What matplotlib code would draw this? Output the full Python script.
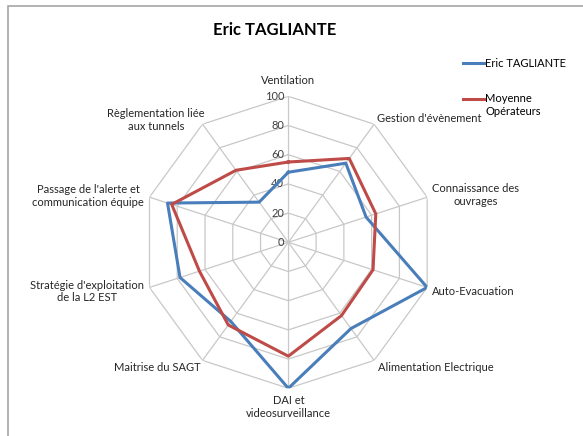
import numpy as np
import matplotlib
matplotlib.use('Agg')
import matplotlib.pyplot as plt
from matplotlib.patches import Rectangle
from matplotlib.legend_handler import HandlerLine2D

plt.rcParams['font.family'] = ['Lato', 'DejaVu Sans']

# Données
categories = ["Ventilation", "Gestion d'évènement", "Connaissance des\nouvrages",
              "Auto-Evacuation", "Alimentation Electrique", "DAI et\nvideosurveillance",
              "Maitrise du SAGT", "Stratégie d'exploitation\nde la L2 EST",
              "Passage de l'alerte et\ncommunication équipe", "Règlementation liée\naux tunnels"]
eric = [48, 67, 56, 100, 73, 100, 67, 78, 87, 34]
moyenne = [55, 71, 63, 61, 62, 78, 70, 64, 84, 61]
series_names = ["Eric TAGLIANTE", "Moyenne\nOpérateurs"]
rings = [20, 40, 60, 80, 100]
tick_labels = ["0", "20", "40", "60", "80", "100"]

# position des étiquettes (décalage en points, alignement)
label_pos = [((0, 11.5), 'center'), ((2, 4), 'left'), ((3.5, 1.5), 'left'),
             ((3.5, -3), 'left'), ((3, -5), 'left'), ((0, -13.7), 'center'),
             ((-1.5, -5), 'right'), ((-4, -3), 'right'), ((-4, 0.7), 'right'),
             ((1.5, 3), 'right')]


class FirstLineHandler(HandlerLine2D):
    # trait de légende aligné sur la première ligne du texte (comme Excel)
    def __init__(self, shift=0, **kw):
        super().__init__(**kw)
        self.shift = shift

    def create_artists(self, legend, orig_handle, xdescent, ydescent, width, height, fontsize, trans):
        arts = super().create_artists(legend, orig_handle, xdescent, ydescent, width, height, fontsize, trans)
        for a in arts:
            a.set_ydata(np.asarray(a.get_ydata()) + self.shift)
        return arts


n = len(categories)
angles = np.linspace(0, 2 * np.pi, n, endpoint=False)
closed = np.append(angles, angles[0])

fig = plt.figure(figsize=(5.83, 4.36), dpi=100)
fig.add_artist(Rectangle((7.5 / 583, -0.1), 1.2, 1.1 - 6 / 436, transform=fig.transFigure,
                         fill=False, edgecolor='#a6a6a6', lw=1.2))

ax = fig.add_axes([0.2441, 0.1094, 0.5009, 0.6697], projection='polar')
ax.set_theta_zero_location('N')
ax.set_theta_direction(-1)
ax.set_ylim(0, 100)
ax.grid(False)
ax.spines['polar'].set_visible(False)
ax.set_xticks([])
ax.set_yticks([])
ax.patch.set_alpha(0)

# grille polygonale
for r in rings:
    ax.plot(closed, [r] * (n + 1), color='#c8c8c8', lw=0.9, zorder=1)
for a in angles:
    ax.plot([a, a], [0, 100], color='#c8c8c8', lw=0.9, zorder=1)

# valeurs de l'axe
for i, t in enumerate(tick_labels):
    ax.annotate(t, xy=(0, i * 20), xytext=(-3, 0), textcoords='offset points',
                ha='right', va='center', fontsize=8, color='#404040')

l1, = ax.plot(closed, eric + eric[:1], color='#4a7ebb', lw=2.2, label=series_names[0], zorder=3)
l2, = ax.plot(closed, moyenne + moyenne[:1], color='#be4b48', lw=2.2, label=series_names[1], zorder=3)

for a, lab, (off, ha) in zip(angles, categories, label_pos):
    ax.annotate(lab, xy=(a, 100), xytext=off, textcoords='offset points',
                ha=ha, va='center', multialignment='center', fontsize=8, color='#262626',
                annotation_clip=False)

fig.text(275 / 583, 1 - 30 / 436, "Eric TAGLIANTE", ha='center', va='center',
         fontsize=12, fontweight='bold', color='black')

fig.legend(loc='upper left', bbox_to_anchor=(453 / 583, 1 - 48 / 436), frameon=False,
           fontsize=8, handlelength=1.9, handletextpad=0.1, labelspacing=2.2,
           handler_map={l2: FirstLineHandler(shift=5)})

fig.savefig('out.png', dpi=100)
